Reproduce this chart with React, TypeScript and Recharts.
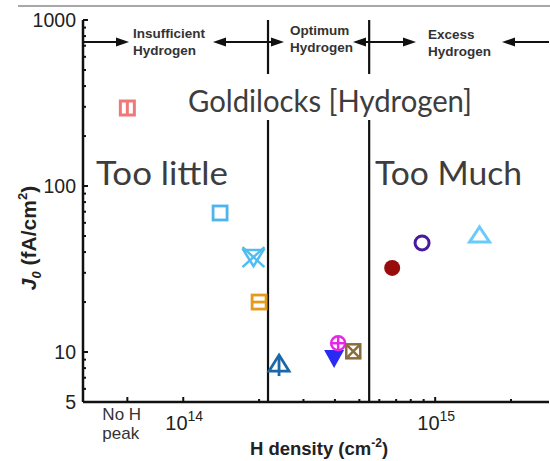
import React from "react";
import { ScatterChart, Scatter, XAxis, YAxis, ReferenceLine } from "recharts";

// H density (cm^-2) of each sample; the first one is the "No H peak" sample
const hDensity = [6e13, 1.4e14, 1.9e14, 2.0e14, 2.4e14, 3.97e14, 4.12e14, 4.73e14, 6.75e14, 8.87e14, 1.5e15];
// J0 (fA/cm^2)
const j0 = [295, 68.8, 37.3, 20, 8.35, 9.2, 11.3, 10.1, 32.1, 45.4, 50.7];
const markerKinds = ["barSquare", "square", "crossTri", "dashSquare", "stemTri", "downTri", "crossCircle", "xSquare", "dot", "ring", "triangle"];
const markerColors = ["#f07878", "#4fb4ee", "#4fbdf2", "#e59a1c", "#1b68a8", "#2a2af5", "#e626e6", "#8a6d3c", "#980c0c", "#4a1a9c", "#68cbf8"];

// region boundaries (H density)
const lowBoundary = 2.17e14;
const highBoundary = 5.47e14;

const noHPeak = 6e13;
const xMajor = [1e14, 1e15];
const xTicks = [6e13, 1e14, 2e14, 3e14, 4e14, 5e14, 6e14, 7e14, 8e14, 9e14, 1e15, 2e15];
const yLabelled = [5, 10, 100, 1000];
const yTicks = [5, 6, 7, 8, 9, 10, 20, 30, 40, 50, 60, 70, 80, 90, 100, 200, 300, 400, 500, 600, 700, 800, 900, 1000];

const AXIS = "#111";
const TICK_FONT = "'Liberation Sans', Arial, sans-serif";
const SLIDE_FONT = "Lato, 'Open Sans', sans-serif";

function Marker({ kind, cx, cy, color }: { kind: string; cx: number; cy: number; color: string }) {
  const s = 7;
  switch (kind) {
    case "barSquare":
      return (
        <g stroke={color} strokeWidth={3} fill="none">
          <rect x={cx - s} y={cy - s} width={2 * s} height={2 * s} />
          <line x1={cx} x2={cx} y1={cy - s} y2={cy + s} />
        </g>
      );
    case "square":
      return <rect x={cx - s} y={cy - s} width={2 * s} height={2 * s} stroke={color} strokeWidth={2.8} fill="none" />;
    case "crossTri":
      return (
        <g stroke={color} strokeWidth={2.5} fill="none">
          <line x1={cx - 11} y1={cy - 10} x2={cx + 11} y2={cy + 10} />
          <line x1={cx + 11} y1={cy - 10} x2={cx - 11} y2={cy + 10} />
          <path d={`M${cx - 10},${cy - 7} L${cx + 10},${cy - 7} L${cx},${cy + 9} Z`} />
        </g>
      );
    case "dashSquare":
      return (
        <g stroke={color} strokeWidth={2.8} fill="none">
          <rect x={cx - s} y={cy - s} width={2 * s} height={2 * s} />
          <line x1={cx - s} x2={cx + s} y1={cy} y2={cy} />
        </g>
      );
    case "stemTri":
      return (
        <g stroke={color} strokeWidth={2.8} fill="none">
          <path d={`M${cx},${cy - 10} L${cx + 10},${cy + 6} L${cx - 10},${cy + 6} Z`} />
          <line x1={cx} x2={cx} y1={cy - 8} y2={cy + 11} />
        </g>
      );
    case "downTri":
      return <path d={`M${cx - 10},${cy - 8} L${cx + 10},${cy - 8} L${cx},${cy + 10} Z`} fill={color} />;
    case "crossCircle":
      return (
        <g stroke={color} strokeWidth={2.5} fill="none">
          <circle cx={cx} cy={cy} r={7} />
          <line x1={cx - 7} x2={cx + 7} y1={cy} y2={cy} />
          <line x1={cx} x2={cx} y1={cy - 7} y2={cy + 7} />
        </g>
      );
    case "xSquare":
      return (
        <g stroke={color} strokeWidth={2.5} fill="none">
          <rect x={cx - s} y={cy - s} width={2 * s} height={2 * s} />
          <line x1={cx - s} y1={cy - s} x2={cx + s} y2={cy + s} />
          <line x1={cx + s} y1={cy - s} x2={cx - s} y2={cy + s} />
        </g>
      );
    case "dot":
      return <circle cx={cx} cy={cy} r={8} fill={color} />;
    case "ring":
      return <circle cx={cx} cy={cy} r={7} stroke={color} strokeWidth={3} fill="none" />;
    case "triangle":
    default:
      return <path d={`M${cx},${cy - 8} L${cx + 10},${cy + 7} L${cx - 10},${cy + 7} Z`} stroke={color} strokeWidth={3} fill="none" strokeLinejoin="miter" />;
  }
}

const BottomTick = (props: any) => {
  const { x, y, payload } = props;
  const v = payload.value;
  const major = xMajor.includes(v) || v === noHPeak;
  let label: React.ReactNode = null;
  if (v === noHPeak) {
    label = (
      <text x={x - 25} y={y + 18} fontSize={17} fill="#333" fontFamily={TICK_FONT}>
        <tspan x={x - 25}>No H</tspan>
        <tspan x={x - 25} dy={19}>peak</tspan>
      </text>
    );
  } else if (xMajor.includes(v)) {
    const exp = Math.round(Math.log10(v));
    label = (
      <text x={x + 1} y={y + 28} textAnchor="middle" fontSize={20} fill="#222" fontFamily={TICK_FONT}>
        10<tspan fontSize={14} dy={-9}>{exp}</tspan>
      </text>
    );
  }
  return (
    <g>
      <line x1={x} x2={x} y1={y} y2={y - (major ? 5 : 3)} stroke={AXIS} strokeWidth={2} />
      {label}
    </g>
  );
};

const TopTick = (props: any) => {
  const { x, y } = props;
  return <line x1={x} x2={x} y1={y} y2={y + 3} stroke={AXIS} strokeWidth={2} />;
};

const LeftTick = (props: any) => {
  const { x, y, payload } = props;
  const v = payload.value;
  const labelled = yLabelled.includes(v);
  return (
    <g>
      <line x1={x} x2={x + (labelled ? 5 : 3)} y1={y} y2={y} stroke={AXIS} strokeWidth={2} />
      {labelled && (
        <text x={x - 7} y={y + 7} textAnchor="end" fontSize={19.5} fill="#222" fontFamily={TICK_FONT}>
          {v}
        </text>
      )}
    </g>
  );
};

const RightTick = (props: any) => {
  const { x, y, payload } = props;
  const labelled = yLabelled.includes(payload.value);
  return <line x1={x} x2={x - (labelled ? 5 : 3)} y1={y} y2={y} stroke={AXIS} strokeWidth={2} />;
};

function Arrow({ x1, x2, y }: { x1: number; x2: number; y: number }) {
  // line from x1 to x2 with a filled head at x2
  const dir = x2 > x1 ? 1 : -1;
  const hx = x2 - dir * 13;
  return (
    <g>
      <line x1={x1} x2={hx} y1={y} y2={y} stroke="#111" strokeWidth={2} />
      <path d={`M${x2},${y} L${hx},${y - 4.5} L${hx},${y + 4.5} Z`} fill="#111" />
    </g>
  );
}

function RegionLabel({ x, y, lines }: { x: number; y: number; lines: string[] }) {
  return (
    <text x={x} y={y} fontSize={13.5} fontWeight="bold" fill="#333" fontFamily={TICK_FONT}>
      {lines.map((l, i) => (
        <tspan key={i} x={x} dy={i === 0 ? 0 : 17}>
          {l}
        </tspan>
      ))}
    </text>
  );
}

export default function App() {
  return (
    <div style={{ position: "absolute", left: 0, top: 0, width: 550, height: 461, overflow: "hidden", background: "#fff" }}>
      <ScatterChart width={550} height={461} margin={{ top: 20, right: 1, bottom: 0, left: 0 }}>
        <XAxis
          xAxisId="bottom"
          dataKey="x"
          type="number"
          scale="log"
          domain={[4e13, 2.83e15]}
          allowDataOverflow
          ticks={xTicks}
          interval={0}
          height={59}
          tickSize={0}
          tickMargin={0}
          tick={<BottomTick />}
          axisLine={{ stroke: AXIS, strokeWidth: 2.5 }}
        />
        <XAxis
          xAxisId="top"
          orientation="top"
          dataKey="x"
          type="number"
          scale="log"
          domain={[4e13, 2.83e15]}
          allowDataOverflow
          ticks={xTicks}
          interval={0}
          height={0}
          tickSize={0}
          tickMargin={0}
          tick={<TopTick />}
          axisLine={{ stroke: AXIS, strokeWidth: 2.5 }}
        />
        <YAxis
          yAxisId="left"
          dataKey="y"
          type="number"
          scale="log"
          domain={[5, 1000]}
          allowDataOverflow
          ticks={yTicks}
          interval={0}
          width={83}
          tickSize={0}
          tickMargin={0}
          tick={<LeftTick />}
          axisLine={{ stroke: AXIS, strokeWidth: 2.5 }}
        />
        <YAxis
          yAxisId="right"
          orientation="right"
          dataKey="y"
          type="number"
          scale="log"
          domain={[5, 1000]}
          allowDataOverflow
          ticks={yTicks}
          interval={0}
          width={0}
          tickSize={0}
          tickMargin={0}
          tick={<RightTick />}
          axisLine={{ stroke: "#b8b8b8", strokeWidth: 1.5 }}
        />
        <ReferenceLine xAxisId="bottom" yAxisId="left" x={lowBoundary} stroke="#111" strokeWidth={2.2} />
        <ReferenceLine xAxisId="bottom" yAxisId="left" x={highBoundary} stroke="#111" strokeWidth={2.2} />
        {hDensity.map((h, i) => (
          <Scatter
            key={markerKinds[i]}
            xAxisId="bottom"
            yAxisId="left"
            data={[{ x: h, y: j0[i] }]}
            isAnimationActive={false}
            shape={(p: any) => <Marker kind={markerKinds[i]} cx={p.cx} cy={p.cy} color={markerColors[i]} />}
          />
        ))}
      </ScatterChart>

      <svg width={550} height={461} style={{ position: "absolute", left: 0, top: 0, pointerEvents: "none" }}>
        {/* slide rule above the figure */}
        <line x1={18} x2={550} y1={6} y2={6} stroke="#8a8a8a" strokeWidth={1.5} />

        {/* region arrows */}
        <Arrow x1={84} x2={129} y={42} />
        <Arrow x1={268} x2={213} y={42} />
        <Arrow x1={268} x2={284} y={42} />
        <Arrow x1={369} x2={353} y={42} />
        <Arrow x1={369} x2={416} y={42} />
        <Arrow x1={549} x2={502} y={42} />
        <RegionLabel x={133} y={38} lines={["Insufficient", "Hydrogen"]} />
        <RegionLabel x={290} y={35} lines={["Optimum", "Hydrogen"]} />
        <RegionLabel x={428} y={39} lines={["Excess", "Hydrogen"]} />

        {/* slide text boxes */}
        <rect x={180} y={74} width={300} height={46} fill="#fff" />
        <text x={188} y={112} fontSize={30} fill="#3d3d3d" fontFamily={SLIDE_FONT} textLength={284} lengthAdjust="spacingAndGlyphs">
          Goldilocks [Hydrogen]
        </text>
        <text x={96} y={185} fontSize={33} fill="#3d3d3d" fontFamily={SLIDE_FONT} textLength={132} lengthAdjust="spacingAndGlyphs">
          Too little
        </text>
        <text x={375} y={185} fontSize={33} fill="#3d3d3d" fontFamily={SLIDE_FONT} textLength={147} lengthAdjust="spacingAndGlyphs">
          Too Much
        </text>

        {/* axis titles */}
        <text x={319} y={455} textAnchor="middle" fontSize={18.5} fontWeight="bold" fill="#222" fontFamily={TICK_FONT}>
          H density (cm<tspan fontSize={12} dy={-8}>-2</tspan>
          <tspan dy={8}>)</tspan>
        </text>
        <text
          transform="translate(36,238) rotate(-90)"
          textAnchor="middle"
          fontSize={21}
          fontWeight="bold"
          fill="#222"
          fontFamily={TICK_FONT}
        >
          <tspan fontStyle="italic">J</tspan>
          <tspan fontStyle="italic" fontSize={13} dy={5}>0</tspan>
          <tspan dy={-5}> (fA/cm</tspan>
          <tspan fontSize={13} dy={-9}>2</tspan>
          <tspan dy={9}>)</tspan>
        </text>
      </svg>
    </div>
  );
}
